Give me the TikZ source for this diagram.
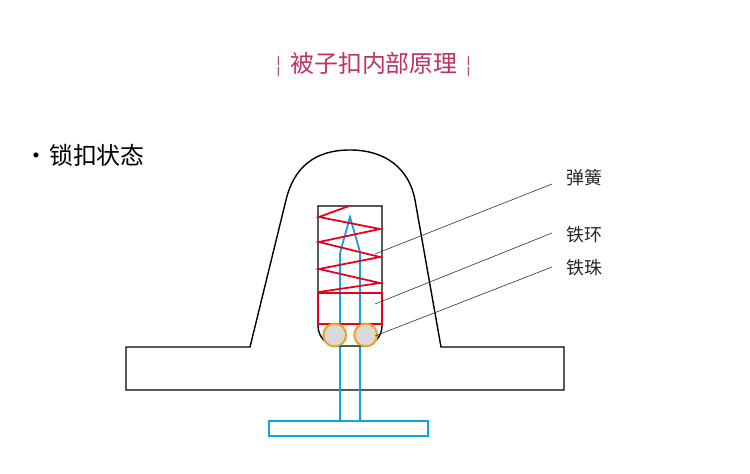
\documentclass[tikz,border=0pt]{standalone}
\usepackage{fontspec}
\usepackage{tikz}
\setmainfont{Noto Sans CJK SC}
\definecolor{pinblue}{RGB}{20,160,230}
\definecolor{springred}{RGB}{230,0,30}
\definecolor{ballorange}{RGB}{240,160,30}
\definecolor{titlered}{RGB}{190,50,100}
\tikzset{
    titletext/.style={text=titlered, font=\fontsize{13.6}{16}\selectfont, inner sep=0pt},
    statetext/.style={text=black, font=\fontsize{13.6}{16}\selectfont, inner sep=0pt, anchor=west},
    parttext/.style={font=\fontsize{10.2}{12}\selectfont, text=black!85, inner sep=0pt, anchor=west},
    leader/.style={draw=black!80, line width=0.35pt},
    ballnode/.style={circle, draw=ballorange, fill=black!15, line width=1.1pt, minimum size=13pt, inner sep=0pt}
}

\begin{document}
\begin{tikzpicture}[x=0.02cm, y=-0.02cm]
    \useasboundingbox (0,0) rectangle (750,473);
    % Title and heading
    \node[titletext] (heading) at (374,64) {\raisebox{0.5pt}{\fontsize{10}{10}\selectfont¦}\hspace{5pt}被子扣内部原理\hspace{5pt}\raisebox{0.5pt}{\fontsize{10}{10}\selectfont¦}};
    \node[statetext] (state) at (24,155) {•\hspace{0.5pt}锁扣状态};
    % Base
    \draw[line width=0.8pt] (126,347) -- (250,347) -- (286,200)
        .. controls (294,167) and (315,150) .. (350,150)
        .. controls (385,150) and (409,168) .. (415,200)
        -- (441,347) -- (564,347) -- (564,390) -- (126,390) -- cycle;
    % Pin
    \draw[pinblue, line width=1pt] (340,421) -- (340,253) -- (350,217) -- (360,252) -- (360,421);
    \draw[pinblue, line width=1pt] (269,421) rectangle (428,436);
    % Chamber
    \draw[line width=0.8pt] (318,206) -- (318,326) arc[start angle=180, end angle=90, radius=20] -- (362,346)
        arc[start angle=90, end angle=0, radius=20] -- (382,206) -- cycle;
    % Spring
    \draw[springred, line width=1pt] (349,206) -- (319,217) -- (380,229) -- (319,242) -- (380,257)
        -- (319,269) -- (380,283) -- (319,292);
    % Ring
    \draw[springred, line width=1pt] (318,293) rectangle (382,324);
    % Balls
    \node[ballnode] (ballleft) at (334.7,335) {};
    \node[ballnode] (ballright) at (365.7,335) {};
    % Labels
    \node[parttext] (springlabel) at (566,178) {弹簧};
    \node[parttext] (ringlabel) at (566,235) {铁环};
    \node[parttext] (balllabel) at (566,268) {铁珠};
    \coordinate (springend) at (552,184);
    \coordinate (ringend) at (552,233);
    \coordinate (ballend) at (552,267);
    \coordinate (springpoint) at (375,254);
    \coordinate (ringpoint) at (375,304);
    \coordinate (ballpoint) at (375,336);
    \draw[leader] (springend) -- (springpoint);
    \draw[leader] (ringend) -- (ringpoint);
    \draw[leader] (ballend) -- (ballpoint);
\end{tikzpicture}
\end{document}
